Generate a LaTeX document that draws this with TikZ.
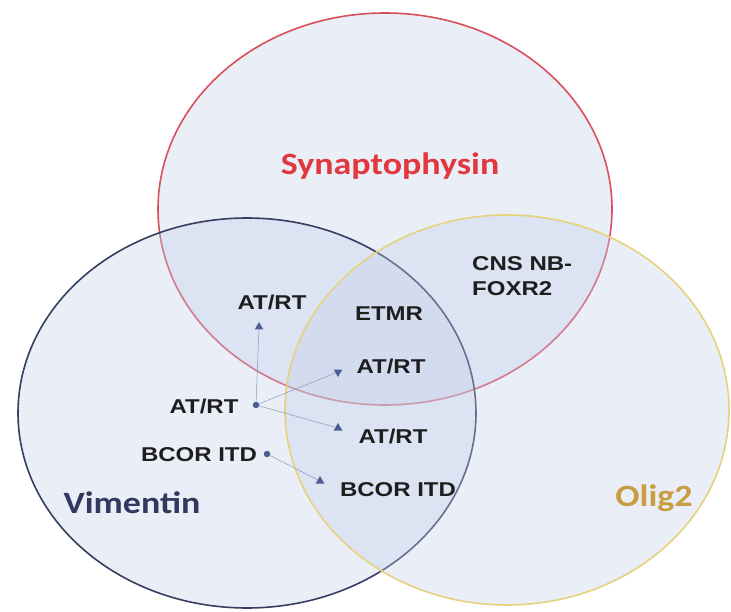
\documentclass[tikz,border=0pt]{standalone}
\usepackage{fontspec}
\setmainfont{Liberation Sans}
\newfontfamily\calib{Carlito}
\usetikzlibrary{shapes.geometric}
\definecolor{redline}{HTML}{D9505C}
\definecolor{blueline}{HTML}{383D62}
\definecolor{yelline}{HTML}{E6D27C}
\definecolor{vennfill}{HTML}{C4D0EA}
\definecolor{synred}{HTML}{E0383E}
\definecolor{vimnavy}{HTML}{33385E}
\definecolor{oliggold}{HTML}{C99E42}
\definecolor{labtext}{HTML}{1E1E1E}
\definecolor{connc}{HTML}{93A3C0}
\definecolor{markc}{HTML}{4A5E92}
\newcommand{\smalllab}[1]{\scalebox{1.2}[1]{#1}}
\newcommand{\biglab}[1]{\scalebox{1.16}[1]{#1}}
\tikzset{
  venn/.style={fill=vennfill, fill opacity=0.35, line width=1.6pt},
  setlabel/.style={inner sep=0pt, font=\calib\bfseries\fontsize{31}{33}\selectfont},
  tumour/.style={inner sep=0pt, text=labtext, font=\bfseries\fontsize{20}{25}\selectfont},
  dotmark/.style={circle, fill=markc, inner sep=0pt, minimum size=6.5pt},
  upmark/.style={regular polygon, regular polygon sides=3, fill=markc, inner sep=0pt, minimum size=10pt},
  downmark/.style={upmark, shape border rotate=180},
  conn/.style={draw=connc, line width=0.6pt},
}
\begin{document}
\begin{tikzpicture}[x=1pt,y=-1pt]
\useasboundingbox (0,0) rectangle (731,612);
\fill[white] (0,0) rectangle (731,612);
% sets
\path[venn, draw=redline] (385,209) ellipse [x radius=227, y radius=196];
\path[venn, draw=blueline] (247,413) ellipse [x radius=229, y radius=195];
\path[venn, draw=yelline] (507,410) ellipse [x radius=222, y radius=195];
% set labels
\node[setlabel, text=synred, anchor=base] (syn) at (390,175) {\biglab{Synaptophysin}};
\node[setlabel, text=vimnavy] (vim) at (132,503) {\biglab{Vimentin}};
\node[setlabel, text=oliggold, anchor=base] (olig) at (654,506) {\biglab{Olig2}};
% tumour labels
\node[tumour, align=left, anchor=west] (cns) at (472,276) {\smalllab{CNS NB-}\\\smalllab{FOXR2}};
\node[tumour] (atrtA) at (272,302) {\smalllab{AT/RT}};
\node[tumour] (etmr) at (389,314) {\smalllab{ETMR}};
\node[tumour] (atrtB) at (391,366) {\smalllab{AT/RT}};
\node[tumour] (atrtL) at (204,406) {\smalllab{AT/RT}};
\node[tumour] (atrtC) at (393,436) {\smalllab{AT/RT}};
\node[tumour] (bcorL) at (199,455) {\smalllab{BCOR ITD}};
\node[tumour] (bcorR) at (398,490) {\smalllab{BCOR ITD}};
% markers and connectors
\node[dotmark] (dA) at (256,405) {};
\node[dotmark] (dB) at (267,454) {};
\node[upmark] (mA) at (259,327) {};
\node[downmark] (mB) at (338,372) {};
\node[upmark] (mC) at (338,428) {};
\node[upmark] (mD) at (320,481) {};
\draw[conn] (dA) -- (mA);
\draw[conn] (dA) -- (mB);
\draw[conn] (dA) -- (mC);
\draw[conn] (dB) -- (mD);
\end{tikzpicture}
\end{document}
